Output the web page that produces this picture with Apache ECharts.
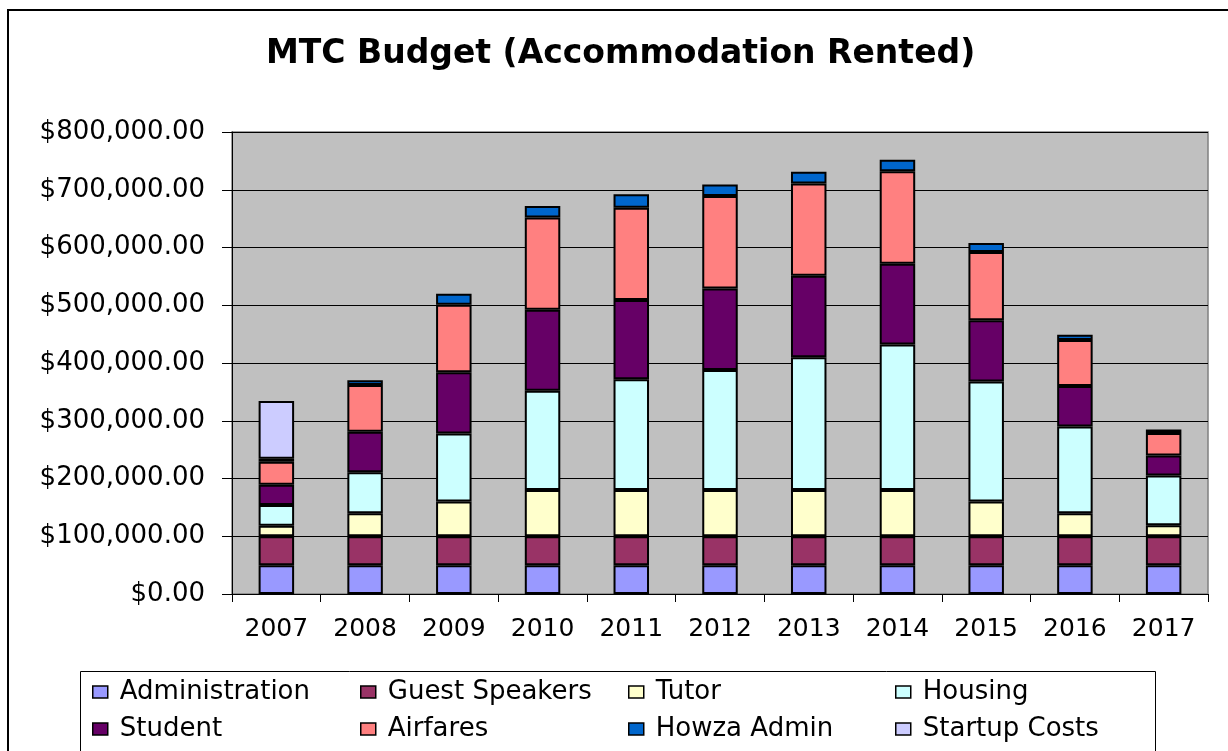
<!DOCTYPE html>
<html>
<head>
<meta charset="utf-8">
<script src="https://cdn.jsdelivr.net/npm/echarts@6/dist/echarts.min.js"></script>
<style>
html,body{margin:0;padding:0;background:#fff;}
#chart{width:1228px;height:751px;}
</style>
</head>
<body>
<div id="chart"></div>
<script>
// ---- data ----
const years = ['2007','2008','2009','2010','2011','2012','2013','2014','2015','2016','2017'];
const administration = [50000,50000,50000,50000,50000,50000,50000,50000,50000,50000,50000];
const guestSpeakers  = [50000,50000,50000,50000,50000,50000,50000,50000,50000,50000,50000];
const tutor          = [18000,40000,60000,80000,80000,80000,80000,80000,60000,40000,19000];
const housing        = [36000,71000,118000,172000,192000,208000,230000,252000,208000,150000,86000];
const student        = [35000,70000,106000,140000,137000,141000,141000,140000,106000,70000,35000];
const airfares       = [40000,81000,117000,160000,160000,160000,160000,160000,118000,80000,39000];
const howzaAdmin     = [5000,8000,19000,20000,23000,20000,20000,20000,16000,9000,6000];
const startupCosts   = [100000,null,null,null,null,null,null,null,null,null,null];
const yTicks = [0,100000,200000,300000,400000,500000,600000,700000,800000];

const seriesNames = ['Administration','Guest Speakers','Tutor','Housing','Student','Airfares','Howza Admin','Startup Costs'];
const seriesData = [administration,guestSpeakers,tutor,housing,student,airfares,howzaAdmin,startupCosts];
const colors = ['#9999FF','#993366','#FFFFCC','#CCFFFF','#660066','#FF8080','#0066CC','#CCCCFF'];

function money(v){
  const s = String(Math.round(v)).replace(/\B(?=(\d{3})+(?!\d))/g, ',');
  return '$' + s + '.00';
}

const FONT = 'DejaVu Sans';
const legendCols = [92, 360, 628, 895];
const legendRows = [679, 716];
const legends = seriesNames.map((name, i) => ({
  data: [name],
  left: legendCols[i % 4],
  top: legendRows[Math.floor(i / 4)],
  padding: 0,
  icon: 'rect',
  itemWidth: 15,
  itemHeight: 12,
  itemStyle: {borderColor: '#000', borderWidth: 1.5},
  textStyle: {fontFamily: FONT, fontSize: 26, color: '#000', padding: [0,0,0,7]},
  selectedMode: false
}));

const chart = echarts.init(document.getElementById('chart'), null, {renderer: 'canvas'});
chart.setOption({
  animation: false,
  backgroundColor: '#fff',
  title: {
    text: 'MTC Budget (Accommodation Rented)',
    left: 266,
    top: 38,
    padding: 0,
    textStyle: {fontFamily: FONT, fontWeight: 'bold', fontSize: 33, color: '#000'}
  },
  graphic: [
    {type: 'rect', shape: {x: 8, y: 10, width: 1240, height: 800}, style: {fill: 'none', stroke: '#000', lineWidth: 2}, silent: true, z: -1},
    {type: 'rect', shape: {x: 80.5, y: 671.5, width: 1075, height: 120}, style: {fill: '#fff', stroke: '#000', lineWidth: 1}, silent: true, z: -1}
  ],
  legend: legends,
  grid: {
    left: 232, right: 20, top: 132, bottom: 157,
    show: true, backgroundColor: '#C0C0C0', borderColor: '#808080', borderWidth: 1.5
  },
  xAxis: {
    type: 'category',
    data: years,
    axisLine: {show: true, lineStyle: {color: '#000', width: 1}},
    axisTick: {show: true, length: 8, alignWithLabel: false, lineStyle: {color: '#000'}},
    axisLabel: {fontFamily: FONT, fontSize: 25, color: '#000', margin: 23}
  },
  yAxis: {
    type: 'value',
    min: 0, max: 800000, interval: 100000,
    axisLine: {show: true, lineStyle: {color: '#000', width: 1}},
    axisTick: {show: true, length: 10, lineStyle: {color: '#000'}},
    splitLine: {show: true, lineStyle: {color: '#000', width: 1}},
    axisLabel: {fontFamily: FONT, fontSize: 26, color: '#000', margin: 27, formatter: money}
  },
  series: seriesNames.map((name, i) => ({
    name: name,
    type: 'bar',
    stack: 'total',
    barWidth: '40%',
    data: seriesData[i],
    itemStyle: {color: colors[i], borderColor: '#000', borderWidth: 2}
  }))
});
</script>
</body>
</html>
